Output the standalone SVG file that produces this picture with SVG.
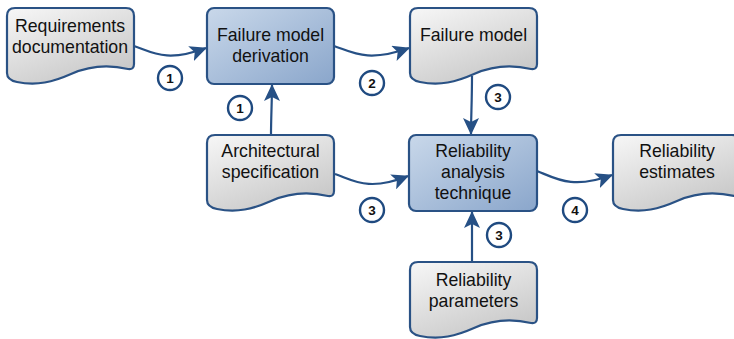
<svg xmlns="http://www.w3.org/2000/svg" width="734" height="339" viewBox="0 0 734 339">
<style>
.doc{fill:url(#gDoc);stroke:#2a5285;stroke-width:2.2}
.proc{fill:url(#gProc);stroke:#2a5285;stroke-width:2.2}
.lbl{font-family:"Liberation Sans",Arial,sans-serif;font-size:17.7px;fill:#111;text-anchor:middle}
.conn{fill:none;stroke:#265085;stroke-width:2.2;marker-end:url(#arr)}
.num circle{fill:#fff;stroke:#1f4a80;stroke-width:2.4}
.num text{font-family:"Liberation Sans",Arial,sans-serif;font-size:13.5px;font-weight:bold;fill:#111;text-anchor:middle}
</style>
<defs>
<linearGradient id="gDoc" x1="0" y1="0" x2="0.6" y2="1">
<stop offset="0" stop-color="#f7f7f7"/><stop offset="1" stop-color="#c9c9c9"/>
</linearGradient>
<linearGradient id="gProc" x1="0" y1="0" x2="1" y2="1">
<stop offset="0" stop-color="#c9d8ea"/><stop offset="1" stop-color="#8aa6cb"/>
</linearGradient>
<path id="docShape" d="M0,8 Q0,0 8,0 H119 Q127,0 127,8 V56 Q127,62 121,61 C100,56 82,58 64,66 C46,74 30,78 10,74 Q0,72 0,65 Z"/>
<marker id="arr" viewBox="0 0 17 16" refX="16" refY="8" markerWidth="17" markerHeight="16" markerUnits="userSpaceOnUse" orient="auto">
<path d="M0,0 L17,8 L0,16 L4,8 Z" fill="#265085"/>
</marker>
</defs>
<g id="connectors">
<path class="conn" d="M134,46 C152,52 166,63 206,48"/>
<path class="conn" d="M334,46 C352,52 367,63 409,48"/>
<path class="conn" d="M472,76 C472,100 471,118 471,134"/>
<path class="conn" d="M271,135 C271,118 272,100 272,85"/>
<path class="conn" d="M335,174 C353,180 368,192 408,176"/>
<path class="conn" d="M537,171 C555,178 572,190 612,175"/>
<path class="conn" d="M472,262 C472,246 472,230 472,212"/>
</g>
<g id="n-req">
<use href="#docShape" class="doc" x="7" y="8"/>
<text class="lbl" x="70" y="32">Requirements</text>
<text class="lbl" x="70" y="53">documentation</text>
</g>
<g id="n-fmd">
<rect class="proc" x="207" y="8" width="127" height="76" rx="7"/>
<text class="lbl" x="270.5" y="41">Failure model</text>
<text class="lbl" x="270.5" y="62">derivation</text>
</g>
<g id="n-fm">
<use href="#docShape" class="doc" x="410" y="8"/>
<text class="lbl" x="473.5" y="41">Failure model</text>
</g>
<g id="n-arch">
<use href="#docShape" class="doc" x="207" y="135"/>
<text class="lbl" x="270.5" y="157">Architectural</text>
<text class="lbl" x="270.5" y="178">specification</text>
</g>
<g id="n-rat">
<rect class="proc" x="409" y="135" width="128" height="76" rx="7"/>
<text class="lbl" x="473" y="157">Reliability</text>
<text class="lbl" x="473" y="178">analysis</text>
<text class="lbl" x="473" y="199">technique</text>
</g>
<g id="n-est">
<use href="#docShape" class="doc" x="613" y="135"/>
<text class="lbl" x="677" y="157">Reliability</text>
<text class="lbl" x="677" y="178">estimates</text>
</g>
<g id="n-par">
<use href="#docShape" class="doc" x="410" y="262"/>
<text class="lbl" x="473.5" y="286">Reliability</text>
<text class="lbl" x="473.5" y="307">parameters</text>
</g>
<g id="labels">
<g class="num"><circle cx="170" cy="78" r="12"/><text x="170" y="83">1</text></g>
<g class="num"><circle cx="240" cy="108" r="12"/><text x="240" y="113">1</text></g>
<g class="num"><circle cx="372" cy="83" r="12"/><text x="372" y="88">2</text></g>
<g class="num"><circle cx="498" cy="97" r="12"/><text x="498" y="102">3</text></g>
<g class="num"><circle cx="372" cy="210" r="12"/><text x="372" y="215">3</text></g>
<g class="num"><circle cx="575" cy="210" r="12"/><text x="575" y="215">4</text></g>
<g class="num"><circle cx="499" cy="235" r="12"/><text x="499" y="240">3</text></g>
</g>
</svg>
